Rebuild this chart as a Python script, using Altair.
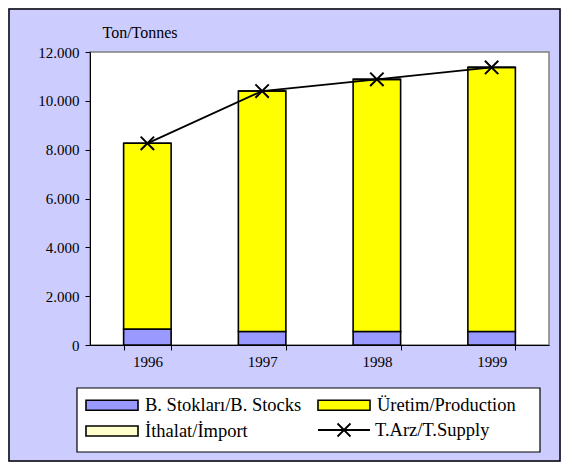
import altair as alt
import pandas as pd

years = ["1996", "1997", "1998", "1999"]
stocks = [650, 550, 550, 550]
production = [7610, 9850, 10330, 10820]
imports = [0, 0, 0, 0]
supply = [8260, 10400, 10880, 11370]

bar_names = ["B. Stokları/B. Stocks", "Üretim/Production", "İthalat/İmport"]
bar_colors = ["#9999FF", "#FFFF00", "#FFFFCC"]
line_name = "T.Arz/T.Supply"
y_ticks = [0, 2000, 4000, 6000, 8000, 10000, 12000]

rows = []
for i, yr in enumerate(years):
    for k, (name, vals) in enumerate(zip(bar_names, [stocks, production, imports])):
        rows.append({"year": yr, "item": name, "value": vals[i], "order": k})
bar_df = pd.DataFrame(rows)
line_df = pd.DataFrame({"year": years, "value": supply, "line_item": [line_name] * len(years)})

FONT = "Liberation Serif, Times New Roman, serif"
LEG_FS = 18.5

x_enc = alt.X(
    "year:N",
    scale=alt.Scale(paddingInner=0.586, paddingOuter=0.293),
    axis=alt.Axis(
        title=None, labelAngle=0, tickBand="extent", tickSize=5, labelPadding=4,
        labelFont=FONT, labelFontSize=15, labelColor="black",
        domainColor="black", tickColor="black", domainWidth=1, grid=False,
    ),
)
y_axis = alt.Axis(
    title="Ton/Tonnes", titleAngle=0, titleX=12, titleY=-15, titleAlign="left",
    titleBaseline="alphabetic", titleFont=FONT, titleFontSize=16,
    titleFontWeight="normal", titleColor="black",
    values=y_ticks, labelExpr="replace(format(datum.value, ',d'), ',', '.')",
    labelFont=FONT, labelFontSize=15, labelColor="black", labelPadding=6,
    tickSize=5, tickColor="black", domainColor="black", grid=False,
)
y_scale = alt.Scale(domain=[0, 12000], nice=False)

# legend decoration box (white with black border)
legend_box = alt.Chart(pd.DataFrame({"a": [0]})).mark_rect(
    fill="white", stroke="black", strokeWidth=1.2
).encode(
    x=alt.value(-13), x2=alt.value(450), y=alt.value(336), y2=alt.value(400)
)

bars = alt.Chart(bar_df).mark_bar(stroke="black", strokeWidth=1.6).encode(
    x=x_enc,
    y=alt.Y("value:Q", stack="zero", scale=y_scale, axis=y_axis),
    fill=alt.Fill(
        "item:N",
        scale=alt.Scale(domain=bar_names, range=bar_colors),
        legend=alt.Legend(
            title=None, orient="none", legendX=-5, legendY=342, columns=2,
            direction="horizontal",
            symbolType="M-1,-0.5H4.2V0.5H-1Z", symbolSize=400,
            symbolStrokeColor="black", symbolStrokeWidth=1.6, symbolOpacity=1,
            labelFont=FONT, labelFontSize=LEG_FS, labelColor="black", labelOffset=38,
            labelLimit=400, columnPadding=12, rowPadding=5, padding=0, zindex=1,
        ),
    ),
    order=alt.Order("order:Q"),
)

line = alt.Chart(line_df).mark_line(strokeWidth=1.8).encode(
    x=x_enc,
    y=alt.Y("value:Q", scale=y_scale, axis=y_axis),
    stroke=alt.Stroke(
        "line_item:N",
        scale=alt.Scale(domain=[line_name], range=["black"]),
        legend=alt.Legend(
            title=None, orient="none", legendX=227, legendY=367,
            symbolType="M-1,0H4.2M0.95,-0.65L2.25,0.65M0.95,0.65L2.25,-0.65",
            symbolSize=400, symbolStrokeWidth=1.8, symbolStrokeColor="black",
            labelFont=FONT, labelFontSize=LEG_FS, labelColor="black", labelOffset=36,
            labelLimit=400, padding=0, zindex=1,
        ),
    ),
)

points = alt.Chart(line_df).mark_point(
    shape="M-1,-1L1,1M-1,1L1,-1", size=180, stroke="black", strokeWidth=2,
    filled=False, opacity=1,
).encode(
    x=x_enc,
    y=alt.Y("value:Q", scale=y_scale, axis=y_axis),
)

frame = alt.Chart(pd.DataFrame({"a": [0]})).mark_rect(
    fill="transparent", stroke="black", strokeWidth=1.5
).encode(
    x=alt.value(-81), x2=alt.value(459 + 11), y=alt.value(-43), y2=alt.value(293 + 116)
)

chart = alt.layer(legend_box, bars, line, points, frame).properties(
    width=459, height=293,
    autosize=alt.AutoSizeParams(type="none"),
    padding={"left": 82, "top": 44, "right": 12, "bottom": 117},
    background="#CCCCFF",
).configure_view(
    fill="white", stroke="#808080", strokeWidth=1.5
)

chart.save("out.html", embed_options={"renderer": "svg", "actions": False})
